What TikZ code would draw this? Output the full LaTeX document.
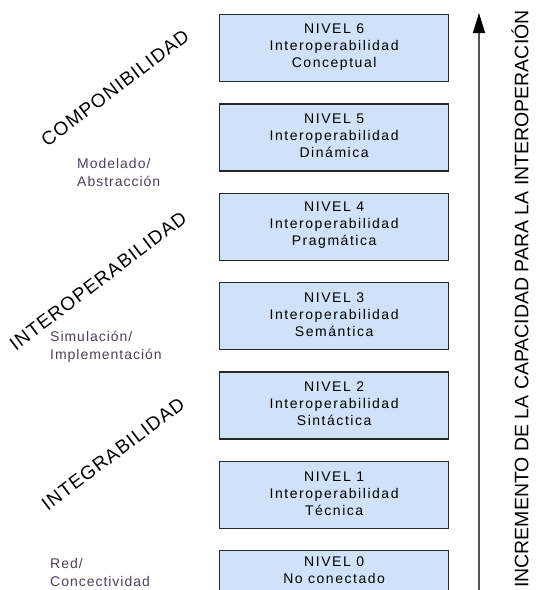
\documentclass[tikz,border=0pt]{standalone}
\usepackage{fontspec}
\setmainfont{Liberation Sans}
\newfontfamily\trackedfont[LetterSpace=11]{Liberation Sans}
\newfontfamily\labelfont[LetterSpace=7]{Liberation Sans}
\newfontfamily\diagfont[LetterSpace=6]{Liberation Sans}
\usetikzlibrary{arrows.meta}
\definecolor{boxfill}{RGB}{207,226,247}
\definecolor{boxline}{RGB}{40,40,40}
\definecolor{sidetext}{RGB}{78,62,92}
\definecolor{axisgray}{RGB}{85,85,85}
\tikzset{
  levelbox/.style={draw=boxline, line width=1.3pt, fill=boxfill,
    minimum width=229pt, minimum height=67pt, inner sep=0pt, anchor=north west},
  leveltext/.style={align=center, inner sep=0pt, text=black,
    font=\trackedfont\fontsize{14}{17}\selectfont},
  sidelabel/.style={align=left, inner sep=0pt, anchor=north west, text=sidetext,
    font=\labelfont\fontsize{14}{18}\selectfont},
  diaglabel/.style={inner sep=0pt, text=black,
    font=\diagfont\fontsize{19}{21}\selectfont},
  axislabel/.style={inner sep=0pt, rotate=90, text=black,
    font=\fontsize{19.5}{22}\selectfont}
}
\begin{document}
\begin{tikzpicture}[x=1pt, y=-1pt]
\useasboundingbox (0,0) rectangle (536,590);
\begin{scope}
\clip (0,0) rectangle (536,590);

% level boxes, top to bottom
\node[levelbox] (b6) at (219,14)    {};
\node[levelbox] (b5) at (219,103.3) {};
\node[levelbox] (b4) at (219,192.7) {};
\node[levelbox] (b3) at (219,282)   {};
\node[levelbox] (b2) at (219,371.3) {};
\node[levelbox] (b1) at (219,460.7) {};
\node[levelbox] (b0) at (219,550)   {};

% box contents
\node[leveltext] (t6) at ([yshift=1.5pt]b6.center) {NIVEL 6\\Interoperabilidad\\Conceptual};
\node[leveltext] (t5) at ([yshift=1.5pt]b5.center) {NIVEL 5\\Interoperabilidad\\Dinámica};
\node[leveltext] (t4) at ([yshift=1.5pt]b4.center) {NIVEL 4\\Interoperabilidad\\Pragmática};
\node[leveltext] (t3) at ([yshift=1.5pt]b3.center) {NIVEL 3\\Interoperabilidad\\Semántica};
\node[leveltext] (t2) at ([yshift=1.5pt]b2.center) {NIVEL 2\\Interoperabilidad\\Sintáctica};
\node[leveltext] (t1) at ([yshift=1.5pt]b1.center) {NIVEL 1\\Interoperabilidad\\Técnica};
\node[leveltext] (t0) at ([yshift=14pt]b0.center) {NIVEL 0\\No conectado};

% increasing capability axis
\coordinate (axbot) at (479,600);
\coordinate (axtop) at (479,13);
\draw[axisgray, line width=1.5pt,
  -{Triangle[length=20pt,width=12pt,color=black,fill=black]}] (axbot) -- (axtop);
\end{scope}

\node[axislabel] (axis) at (520,299)
  {INCREMENTO DE LA CAPACIDAD PARA LA INTEROPERACIÓN};

% diagonal category labels
\node[diaglabel, rotate=37] (comp)  at (115,88)  {COMPONIBILIDAD};
\node[diaglabel, rotate=37] (inter) at (98,281)  {INTEROPERABILIDAD};
\node[diaglabel, rotate=37] (integ) at (113,454) {INTEGRABILIDAD};

% side notes
\node[sidelabel] (model) at (77,158)  {Modelado/\\Abstracción};
\node[sidelabel] (simul) at (50,331)  {Simulación/\\Implementación};
\node[sidelabel] (red)   at (50,558)  {Red/\\Concectividad};
\end{tikzpicture}
\end{document}
